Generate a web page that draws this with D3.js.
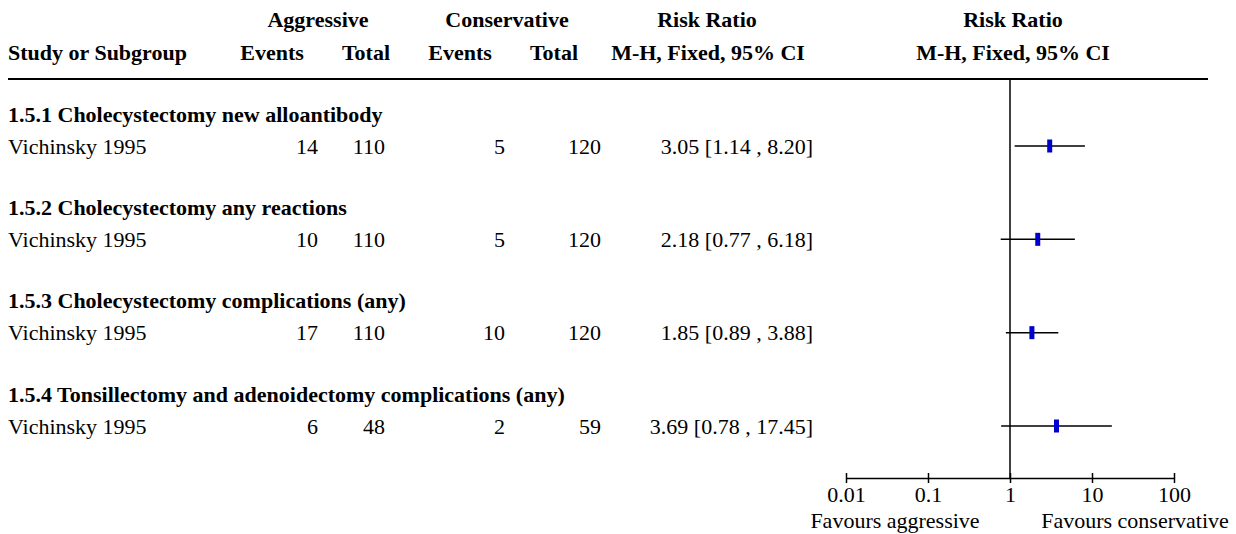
<!DOCTYPE html>
<html lang="en">
<head>
  <meta charset="UTF-8">
  <title>forest plot</title>
  <style>
    body { margin: 0; background: #fff; }
    text { font-family: "Liberation Serif", "Times New Roman", serif; font-size: 22px; fill: #000; }
    .b { font-weight: bold; }
  </style>
</head>
<body>
  <div class="forest"></div>
  <script src="https://cdnjs.cloudflare.com/ajax/libs/d3/7.8.5/d3.min.js"></script>
  <script>
    const subgroups = [
      "1.5.1 Cholecystectomy new alloantibody",
      "1.5.2 Cholecystectomy any reactions",
      "1.5.3 Cholecystectomy complications (any)",
      "1.5.4 Tonsillectomy and adenoidectomy complications (any)"
    ];
    const studies = ["Vichinsky 1995", "Vichinsky 1995", "Vichinsky 1995", "Vichinsky 1995"];
    const aggEvents = [14, 10, 17, 6];
    const aggTotal = [110, 110, 110, 48];
    const conEvents = [5, 5, 10, 2];
    const conTotal = [120, 120, 120, 59];
    const rr = [3.05, 2.18, 1.85, 3.69];
    const lower = [1.14, 0.77, 0.89, 0.78];
    const upper = [8.20, 6.18, 3.88, 17.45];
    const tickValues = [0.01, 0.1, 1, 10, 100];
    const tickLabels = ["0.01", "0.1", "1", "10", "100"];

    const width = 1236, height = 534;
    const svg = d3.select('.forest').append('svg')
      .attr('width', width).attr('height', height);

    const x = d3.scaleLog().domain([0.01, 100]).range([846, 1174]);
    const groupY = d3.scaleLinear().domain([0, 3]).range([114, 394]);
    const axisY = 478;

    // header
    const head = [
      ["Aggressive", 318, 19, "middle"], ["Conservative", 507, 19, "middle"],
      ["Risk Ratio", 707, 19, "middle"], ["Risk Ratio", 1013, 19, "middle"],
      ["Study or Subgroup", 8, 52, "start"], ["Events", 272, 52, "middle"],
      ["Total", 366, 52, "middle"], ["Events", 460, 52, "middle"],
      ["Total", 554, 52, "middle"], ["M-H, Fixed, 95% CI", 708, 52, "middle"],
      ["M-H, Fixed, 95% CI", 1013, 52, "middle"]
    ];
    svg.selectAll('text.h').data(head).join('text')
      .attr('class', 'h b')
      .attr('x', d => d[1]).attr('y', d => d[2])
      .attr('dy', '0.35em')
      .attr('text-anchor', d => d[3])
      .text(d => d[0]);

    svg.append('line')
      .attr('x1', 8).attr('x2', 1208).attr('y1', 79).attr('y2', 79)
      .attr('stroke', '#000').attr('stroke-width', 2);

    svg.append('line')
      .attr('x1', x(1)).attr('x2', x(1)).attr('y1', 79).attr('y2', axisY)
      .attr('stroke', '#000').attr('stroke-width', 1.5);

    const idx = d3.range(subgroups.length);
    const g = svg.selectAll('g.grp').data(idx).join('g').attr('class', 'grp');

    g.append('text').attr('class', 'b')
      .attr('x', 8).attr('y', i => groupY(i)).attr('dy', '0.35em')
      .text(i => subgroups[i]);

    const sy = i => groupY(i) + 32;
    g.append('text').attr('x', 8).attr('y', sy).attr('dy', '0.35em').text(i => studies[i]);
    const cols = [[aggEvents, 318], [aggTotal, 385], [conEvents, 505], [conTotal, 601]];
    cols.forEach(([arr, cx]) => {
      g.append('text').attr('x', cx).attr('y', sy).attr('dy', '0.35em')
        .attr('text-anchor', 'end').text(i => arr[i]);
    });
    g.append('text').attr('x', 813).attr('y', sy).attr('dy', '0.35em')
      .attr('text-anchor', 'end')
      .text(i => `${rr[i].toFixed(2)} [${lower[i].toFixed(2)} , ${upper[i].toFixed(2)}]`);

    g.append('line')
      .attr('x1', i => x(lower[i])).attr('x2', i => x(upper[i]))
      .attr('y1', sy).attr('y2', sy)
      .attr('stroke', '#000').attr('stroke-width', 1.5);
    g.append('rect')
      .attr('x', i => x(rr[i]) - 2.5).attr('y', i => sy(i) - 6.5)
      .attr('width', 5).attr('height', 13)
      .attr('fill', '#0000cc');

    // axis
    const axis = svg.append('g')
      .attr('transform', `translate(0,${axisY})`)
      .call(d3.axisBottom(x).tickValues(tickValues)
        .tickFormat((d, i) => tickLabels[i]).tickSizeInner(5).tickSizeOuter(0).tickPadding(3));
    axis.select('.domain').attr('stroke', '#000').attr('stroke-width', 1.5);
    axis.selectAll('.tick line').attr('y1', -5).attr('y2', 5)
      .attr('stroke', '#000').attr('stroke-width', 1.5);
    axis.selectAll('.tick text')
      .style('font-family', '"Liberation Serif", serif').style('font-size', '22px')
      .attr('fill', '#000');

    svg.append('text').attr('x', 895).attr('y', 520).attr('dy', '0.35em')
      .attr('text-anchor', 'middle').text('Favours aggressive');
    svg.append('text').attr('x', 1135).attr('y', 520).attr('dy', '0.35em')
      .attr('text-anchor', 'middle').text('Favours conservative');
  </script>
</body>
</html>
